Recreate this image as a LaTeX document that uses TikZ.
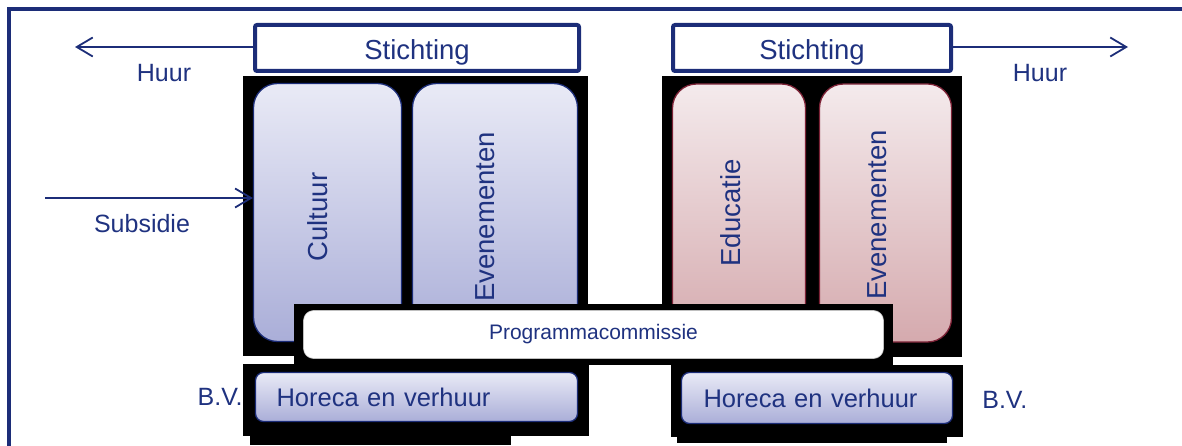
\documentclass[tikz,border=0pt]{standalone}
\usepackage{fontspec}
\setmainfont{Liberation Sans}
\usetikzlibrary{arrows.meta}

\definecolor{navy}{RGB}{31,50,128}
\definecolor{framecol}{RGB}{28,45,120}
\definecolor{bluetop}{RGB}{233,234,246}
\definecolor{bluebot}{RGB}{170,174,216}
\definecolor{pinktop}{RGB}{244,234,236}
\definecolor{pinkbot}{RGB}{213,170,174}
\definecolor{wine}{RGB}{125,35,55}

\begin{document}
\begin{tikzpicture}[x=1pt,y=-1pt,
  txt/.style={text=navy,font=\fontsize{25}{28}\selectfont,inner sep=0pt},
  stichting/.style={draw=framecol,line width=4pt,rounded corners=2pt,fill=white,minimum height=46pt,inner sep=0pt,text height=24pt,text depth=0pt,text=navy,font=\fontsize{27.5}{30}\selectfont},
  tak/.style={rounded corners=24pt,line width=1.3pt,inner sep=0pt,minimum height=258pt},
  blauw/.style={tak,draw=framecol,top color=bluetop,bottom color=bluebot},
  roze/.style={tak,draw=wine,top color=pinktop,bottom color=pinkbot},
  vlabel/.style={txt,rotate=90,font=\fontsize{27.5}{30}\selectfont},
  horeca/.style={rounded corners=8pt,line width=1.3pt,draw=framecol,top color=bluetop,bottom color=bluebot,inner sep=0pt,text=navy,font=\fontsize{25.5}{28}\selectfont},
  pijl/.style={-{Straight Barb[length=16pt,width=19pt]},draw=framecol,line width=1.8pt}]
\useasboundingbox (0,0) rectangle (1182,446);

% outer frame (runs off the page at right and bottom)
\draw[framecol,line width=3.5pt] (1182,9) -- (9,9) -- (9,446);

% Stichting boxes
\node[stichting,minimum width=324pt] (stL) at (417,48) {Stichting};
\node[stichting,minimum width=278pt] (stR) at (812,48) {Stichting};

% black backing of the two blocks
\fill[black] (243,76) rectangle (588,356);
\fill[black] (662,76) rectangle (962,357);

% branches (left: blue, right: red)
\node[blauw,minimum width=148pt] (cult) at (327.5,212.5) {};
\node[blauw,minimum width=165pt] (evL) at (495,212.5) {};
\node[roze,minimum width=133pt] (educ) at (739,213) {};
\node[roze,minimum width=132pt] (evR) at (885.5,213) {};
\node[vlabel] at ([xshift=-10pt,yshift=-4.5pt]cult.center) {Cultuur};
\node[vlabel] at ([xshift=-10pt,yshift=-4.5pt]evL.center) {Evenementen};
\node[vlabel] at ([xshift=-8pt]educ.center) {Educatie};
\node[vlabel] at ([xshift=-8pt,yshift=-2pt]evR.center) {Evenementen};

% Programmacommissie across both blocks
\fill[black] (294,304) rectangle (893,365);
\fill[black] (294,365) rectangle (467,372);
\node[draw=black!25,line width=0.6pt,fill=white,rounded corners=10pt,minimum width=580pt,minimum height=48pt,inner sep=0pt,text=navy,font=\fontsize{21}{24}\selectfont] (prog) at (593.5,334.5) {Programmacommissie};

% B.V. parts
\fill[black] (243,364) rectangle (589,436);
\fill[black] (250,436) rectangle (511,445);
\fill[black] (671,365) rectangle (963,437);
\fill[black] (677,437) rectangle (947,443);
\node[horeca,minimum width=322pt,minimum height=49pt,text width=280pt,align=left] (horL) at (416.5,397) {Horeca en verhuur};
\node[horeca,minimum width=271pt,minimum height=51pt,text width=227pt,align=left] (horR) at (817,398) {Horeca en verhuur};
\node[txt,anchor=east] (bvL) at ([xshift=-12pt]horL.west) {B.V.};
\node[txt,anchor=west] (bvR) at ([xshift=29pt,yshift=-2pt]horR.east) {B.V.};

% flows
\coordinate (outL) at (75,47);
\coordinate (outR) at (1128,47);
\coordinate (subs) at (45,198);
\draw[pijl] (stL.west |- outL) -- (outL);
\draw[pijl] (stR.east |- outR) -- (outR);
\draw[pijl] (subs) -- (cult.west |- subs);
\node[txt] (huurL) at (164,73) {Huur};
\node[txt] (huurR) at (1040,73) {Huur};
\node[txt] (subsT) at (142,224) {Subsidie};

\end{tikzpicture}
\end{document}
